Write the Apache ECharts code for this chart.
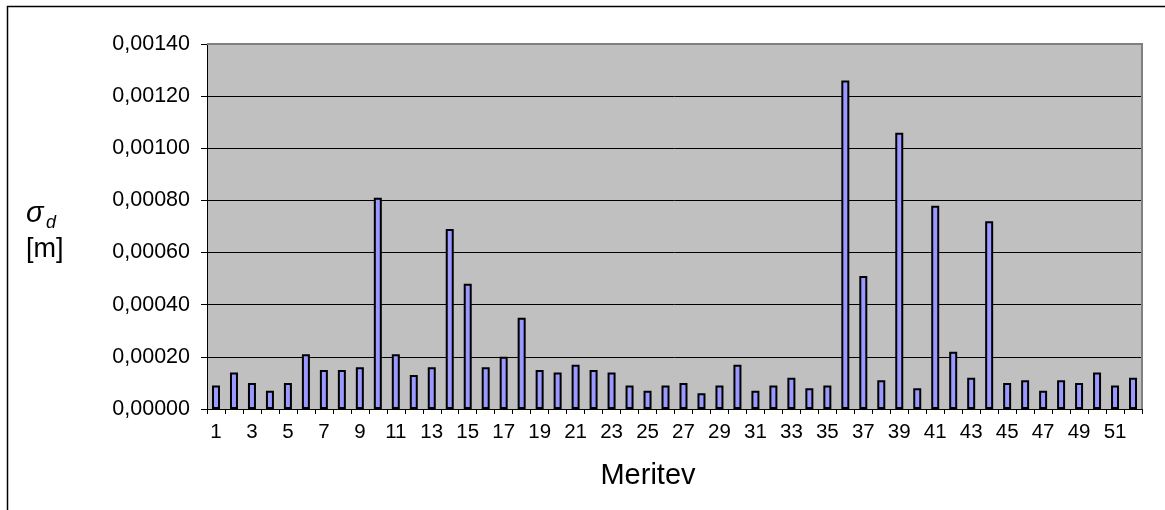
<!DOCTYPE html>
<html>
<head>
<meta charset="utf-8">
<script src="https://cdn.jsdelivr.net/npm/echarts@6/dist/echarts.min.js"></script>
<style>
html,body{margin:0;padding:0;background:#fff;}
#chart{width:1165px;height:510px;}
</style>
</head>
<body>
<div id="chart"></div>
<script>
var categories = ['1','2','3','4','5','6','7','8','9','10','11','12','13','14','15','16','17','18','19','20','21','22','23','24','25','26','27','28','29','30','31','32','33','34','35','36','37','38','39','40','41','42','43','44','45','46','47','48','49','50','51','52'];
var sigmaValues = [0.00009,0.00014,0.00010,0.00007,0.00010,0.00021,0.00015,0.00015,0.00016,0.00081,
  0.00021,0.00013,0.00016,0.00069,0.00048,0.00016,0.00020,0.00035,0.00015,0.00014,
  0.00017,0.00015,0.00014,0.00009,0.00007,0.00009,0.00010,0.00006,0.00009,0.00017,
  0.00007,0.00009,0.00012,0.00008,0.00009,0.00126,0.00051,0.00011,0.00106,0.00008,
  0.00078,0.00022,0.00012,0.00072,0.00010,0.00011,0.00007,0.00011,0.00010,0.00014,
  0.00009,0.00012];
var yMin = 0, yMax = 0.0014, yStep = 0.0002;
var xTitle = 'Meritev';
var yTitleSymbol = 'σ';
var yTitleSub = 'd';
var yTitleUnit = '[m]';

var FONT = '"Liberation Sans", Arial, sans-serif';
var chart = echarts.init(document.getElementById('chart'), null, {renderer:'canvas'});
var G = {left:207, top:44, width:935, height:365};
chart.setOption({
  animation:false,
  backgroundColor:'#ffffff',
  grid:{left:G.left, top:G.top, width:G.width, height:G.height, show:true, backgroundColor:'#C0C0C0', borderWidth:0},
  xAxis:{
    type:'category', data:categories, boundaryGap:true,
    axisLine:{show:true, lineStyle:{color:'#000', width:1}},
    axisTick:{show:true, interval:0, alignWithLabel:false, length:5, lineStyle:{color:'#000', width:1}},
    axisLabel:{interval:1, margin:13, fontSize:20.5, fontFamily:FONT, color:'#000'},
    splitLine:{show:false}
  },
  yAxis:{
    type:'value', min:yMin, max:yMax, interval:yStep,
    axisLine:{show:true, lineStyle:{color:'#000', width:1}},
    axisTick:{show:true, length:6, lineStyle:{color:'#000', width:1}},
    axisLabel:{margin:17, fontSize:21.5, fontFamily:FONT, color:'#000',
      formatter:function(v){return v.toFixed(5).replace('.', ',');}},
    splitLine:{show:true, lineStyle:{color:'#000', width:1}}
  },
  series:[{
    type:'bar', data:sigmaValues, barWidth:8,
    itemStyle:{color:'#9999FF', borderColor:'#000', borderWidth:2}
  }],
  graphic:[
    {type:'rect', z:100, silent:true, shape:{x:7.5, y:6.5, width:1200, height:600},
      style:{fill:null, stroke:'#000', lineWidth:1.5}},
    {type:'polyline', z:100, silent:true,
      shape:{points:[[G.left, G.top], [G.left+G.width, G.top], [G.left+G.width, G.top+G.height]]},
      style:{fill:null, stroke:'#808080', lineWidth:2}},
    {type:'text', z:100, x:648, y:476,
      style:{text:xTitle, fontSize:29, fontFamily:FONT, fill:'#000', align:'center', verticalAlign:'middle'}},
    {type:'text', z:100, x:26, y:214,
      style:{text:yTitleSymbol, fontSize:29, fontStyle:'italic', fontFamily:FONT, fill:'#000', align:'left', verticalAlign:'middle'}},
    {type:'text', z:100, x:46, y:223,
      style:{text:yTitleSub, fontSize:18, fontStyle:'italic', fontFamily:FONT, fill:'#000', align:'left', verticalAlign:'middle'}},
    {type:'text', z:100, x:26, y:250,
      style:{text:yTitleUnit, fontSize:27, fontFamily:FONT, fill:'#000', align:'left', verticalAlign:'middle'}}
  ]
});
</script>
</body>
</html>
